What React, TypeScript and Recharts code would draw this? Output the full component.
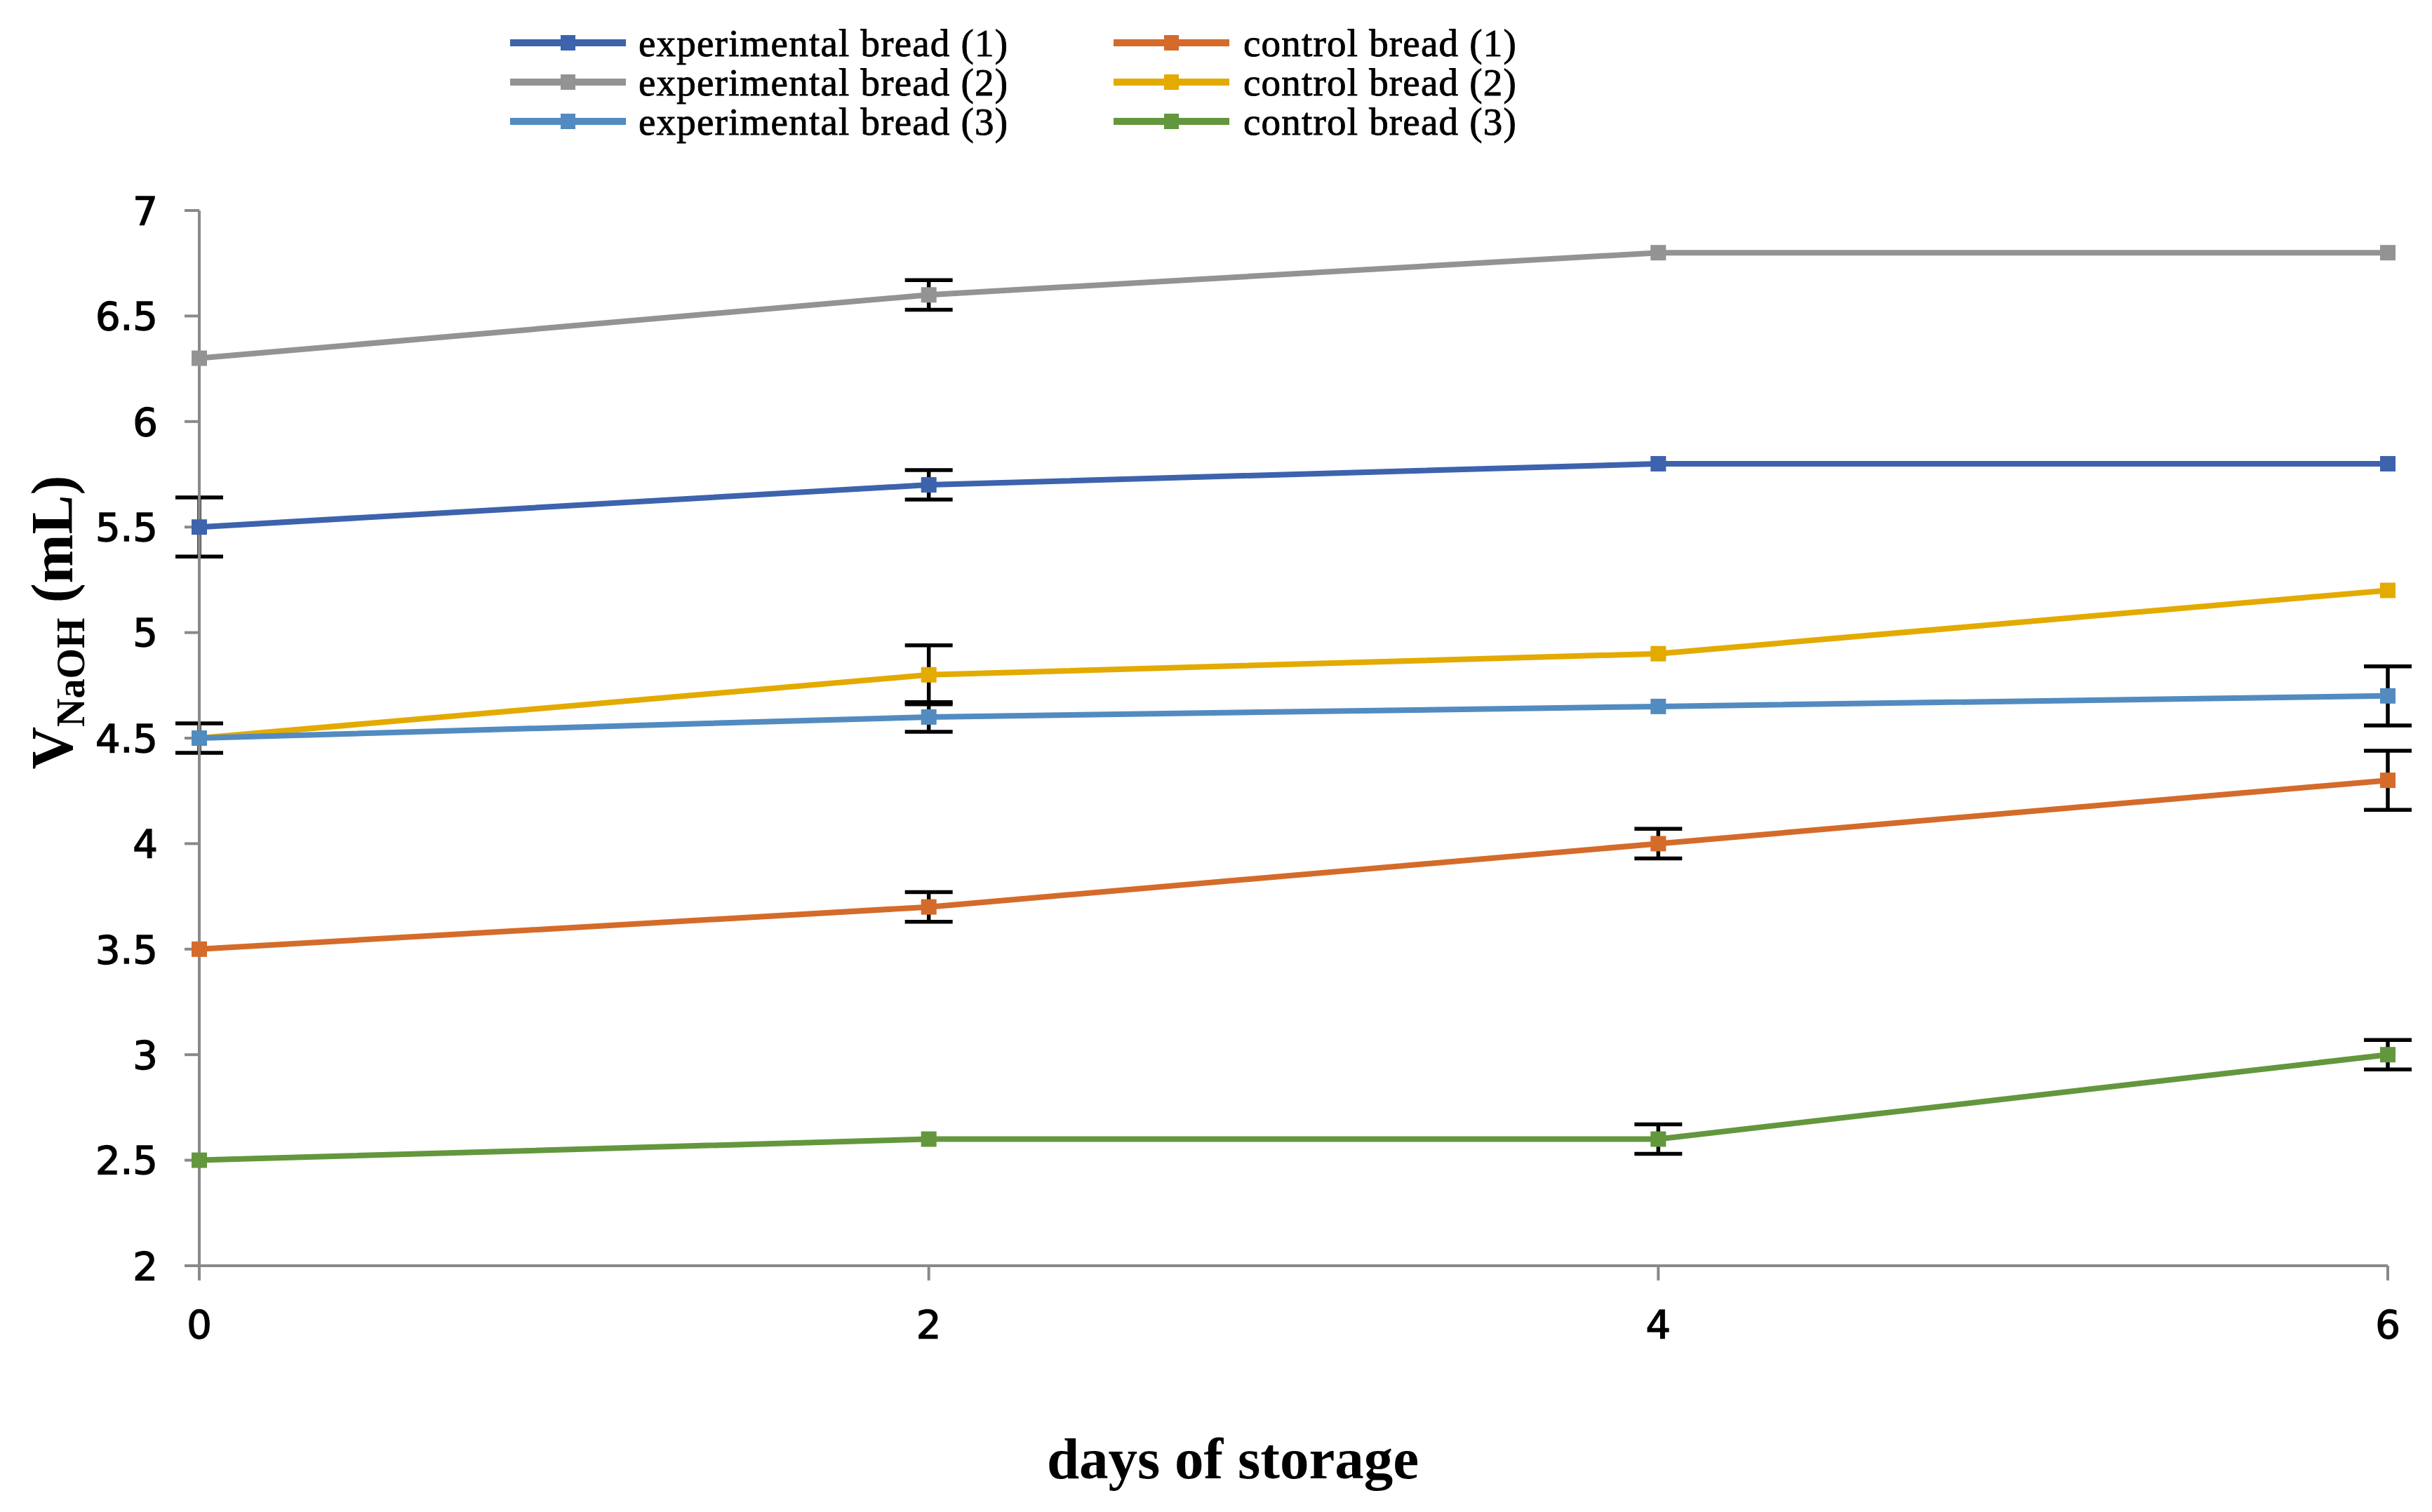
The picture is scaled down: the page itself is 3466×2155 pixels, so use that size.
import React from 'react'
import { LineChart, Line, XAxis, YAxis, ErrorBar, Legend, Label } from 'recharts'

const days = [0, 2, 4, 6]
const yTicks = [2, 2.5, 3, 3.5, 4, 4.5, 5, 5.5, 6, 6.5, 7]

// values (mL NaOH)
const exp1 = [5.5, 5.7, 5.8, 5.8]
const exp2 = [6.3, 6.6, 6.8, 6.8]
const exp3 = [4.5, 4.6, 4.65, 4.7]
const ctrl1 = [3.5, 3.7, 4.0, 4.3]
const ctrl2 = [4.5, 4.8, 4.9, 5.2]
const ctrl3 = [2.5, 2.6, 2.6, 3.0]

// error bar half-widths, 0 = none drawn
const exp1Err = [0.14, 0.07, 0, 0]
const exp2Err = [0, 0.07, 0, 0]
const exp3Err = [0.07, 0.07, 0, 0.14]
const ctrl1Err = [0, 0.07, 0.07, 0.14]
const ctrl2Err = [0, 0.14, 0, 0]
const ctrl3Err = [0, 0, 0.07, 0.07]

const series = [
  { key: 'exp1', name: 'experimental bread (1)', color: '#3D63AD', values: exp1, errors: exp1Err },
  { key: 'ctrl1', name: 'control bread (1)', color: '#D46B2A', values: ctrl1, errors: ctrl1Err },
  { key: 'exp2', name: 'experimental bread (2)', color: '#939393', values: exp2, errors: exp2Err },
  { key: 'ctrl2', name: 'control bread (2)', color: '#E3AA00', values: ctrl2, errors: ctrl2Err },
  { key: 'exp3', name: 'experimental bread (3)', color: '#528BC0', values: exp3, errors: exp3Err },
  { key: 'ctrl3', name: 'control bread (3)', color: '#63973D', values: ctrl3, errors: ctrl3Err },
]

const rows = days.map((day, i) => {
  const row: Record<string, number> = { day }
  series.forEach((s) => {
    row[s.key] = s.values[i]
    row[s.key + 'Err'] = s.errors[i]
  })
  return row
})

const AXIS = '#898989'
// DejaVu with a thin outline to get the heavier Excel look
const TICK_FONT = { fill: '#000', stroke: '#000', strokeWidth: 1.4, fontSize: 56, fontFamily: 'DejaVu Sans' }
const SERIF = '"Liberation Serif", "Times New Roman", serif'

function squareDot(color: string, key: string) {
  return (props: any) => (
    <rect
      key={`${key}-${props.index}`}
      x={props.cx - 11}
      y={props.cy - 11}
      width={22}
      height={22}
      fill={color}
    />
  )
}

function renderLegend() {
  // left column: experimental, right column: control
  const cols = [
    { lineX: 727, textX: 910, items: [series[0], series[2], series[4]] },
    { lineX: 1587, textX: 1772, items: [series[1], series[3], series[5]] },
  ]
  const rowY = [61, 117, 173]
  return (
    <svg width={3466} height={220} style={{ display: 'block' }}>
      {cols.map((c) =>
        c.items.map((s, i) => (
          <g key={s.key}>
            <line x1={c.lineX} x2={c.lineX + 165} y1={rowY[i]} y2={rowY[i]} stroke={s.color} strokeWidth={10} />
            <rect x={c.lineX + 72} y={rowY[i] - 11} width={21} height={22} fill={s.color} />
            <text
              x={c.textX}
              y={rowY[i] + 19}
              fontFamily={SERIF}
              fontSize={55}
              letterSpacing={1.2}
              fill="#000"
              stroke="#000"
              strokeWidth={0.9}
            >
              {s.name}
            </text>
          </g>
        ))
      )}
    </svg>
  )
}

function YTitle() {
  const cx = 103
  const cy = 887
  return (
    <text
      x={cx}
      y={cy}
      transform={`rotate(-90, ${cx}, ${cy})`}
      textAnchor="middle"
      fontFamily={SERIF}
      fontWeight="bold"
      fontSize={84}
      fill="#000"
    >
      <tspan>V</tspan>
      <tspan fontSize={56} dy={17}>NaOH</tspan>
      <tspan dy={-17}> (mL)</tspan>
    </text>
  )
}

function XTitle(props: any) {
  const vb = props.viewBox || { x: 0, y: 0 }
  return (
    <text
      x={1757}
      y={vb.y + 303}
      textAnchor="middle"
      fontFamily={SERIF}
      fontWeight="bold"
      fontSize={83}
      fill="#000"
    >
      days of storage
    </text>
  )
}

export default function App() {
  return (
    <div>
      <style>{'body{margin:0;background:#fff}'}</style>
      <LineChart
        width={3466}
        height={2155}
        data={rows}
        margin={{ top: 300, right: 63, bottom: 0, left: 0 }}
      >
        <XAxis
          dataKey="day"
          type="number"
          domain={[0, 6]}
          ticks={days}
          height={351}
          stroke={AXIS}
          axisLine={{ stroke: AXIS, strokeWidth: 4 }}
          tickLine={{ stroke: AXIS, strokeWidth: 4 }}
          tickSize={21}
          tickMargin={42}
          tick={TICK_FONT}
        >
          <Label content={XTitle} />
        </XAxis>
        <YAxis
          type="number"
          domain={[2, 7]}
          ticks={yTicks}
          width={284}
          stroke={AXIS}
          axisLine={{ stroke: AXIS, strokeWidth: 4 }}
          tickLine={{ stroke: AXIS, strokeWidth: 4 }}
          tickSize={21}
          tickMargin={38}
          tick={TICK_FONT}
        >
          <Label content={YTitle} />
        </YAxis>
        <Legend
          layout="horizontal"
          verticalAlign="middle"
          align="center"
          wrapperStyle={{ top: 0, left: 0, width: 3466, height: 220 }}
          content={renderLegend}
        />
        {series.map((s) => (
          <Line
            key={s.key}
            dataKey={s.key}
            name={s.name}
            type="linear"
            stroke={s.color}
            strokeWidth={8}
            dot={squareDot(s.color, s.key)}
            activeDot={false}
            isAnimationActive={false}
          >
            <ErrorBar dataKey={s.key + 'Err'} direction="y" width={34} stroke="#000" strokeWidth={5.5} />
          </Line>
        ))}
      </LineChart>
    </div>
  )
}
